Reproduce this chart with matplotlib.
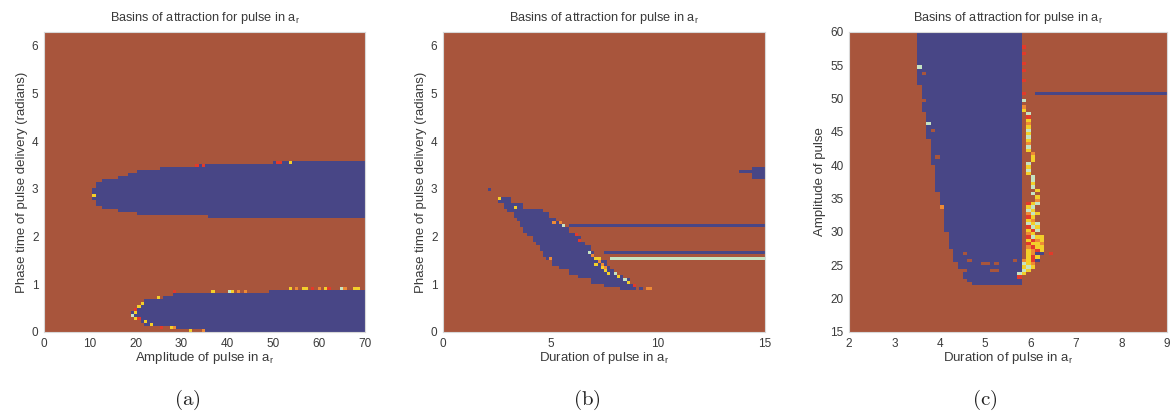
import numpy as np
import matplotlib
matplotlib.use('Agg')
import matplotlib.pyplot as plt
from matplotlib.colors import ListedColormap

plt.rcParams['font.family'] = ['Liberation Sans', 'DejaVu Sans']

# colour code of each grid cell: 0 = brown basin, 1 = blue basin, 2..5 = other attractors
basin_colors = ['#A8553C', '#484686', '#E23A2B', '#F3CF2A', '#C6E3C2', '#EE8A35']
cmap = ListedColormap(basin_colors)

title_txt = 'Basins of attraction for pulse in a$_\\mathregular{r}$'
phase_label = 'Phase time of pulse delivery (radians)'

# ---------------- panel (a): amplitude vs phase ----------------
amp_ticks_a = [0, 10, 20, 30, 40, 50, 60, 70]
phase_ticks = [0, 1, 2, 3, 4, 5, 6]

# upper blue basin, piecewise in amplitude (start of step, bottom, top)
up_amp = [10.5, 11.5, 12.5, 14, 16, 18, 20, 22, 25, 30, 33, 36, 40, 50]
up_bot = [2.75, 2.63, 2.58, 2.55, 2.53, 2.50, 2.48, 2.46, 2.46, 2.46, 2.46, 2.41, 2.41, 2.41]
up_top = [3.02, 3.15, 3.20, 3.22, 3.27, 3.32, 3.38, 3.40, 3.47, 3.48, 3.52, 3.53, 3.54, 3.60]

# lower blue basin
low_amp = [19, 20, 21, 22, 24, 26, 28, 31, 34, 36, 49]
low_bot = [0.30, 0.22, 0.18, 0.15, 0.12, 0.10, 0.08, 0.05, 0.02, 0.0, 0.0]
low_top = [0.45, 0.55, 0.60, 0.66, 0.72, 0.76, 0.80, 0.82, 0.82, 0.82, 0.90]

# scattered cells of other attractors along the borders
spk_a_amp = [11.0, 33.1, 34.4, 50.7, 51.8, 53.3,
             28.2, 25.1, 21.7, 20.9, 20.2, 19.5, 19.8, 20.2, 20.9, 22.4, 23.5, 25.3,
             27.5, 28.6, 31.5, 34.4, 36.9, 40.2, 41.3, 42.4, 43.5,
             53.8, 55.0, 56.2, 57.4, 58.6, 59.8, 61.0, 62.2, 64.5, 65.6, 67.5, 68.6]
spk_a_phase = [2.87, 3.50, 3.50, 3.57, 3.57, 3.57,
               0.85, 0.74, 0.60, 0.53, 0.47, 0.36, 0.42, 0.27, 0.26, 0.20, 0.15, 0.11,
               0.10, 0.10, 0.03, 0.03, 0.86, 0.86, 0.86, 0.86, 0.86,
               0.94, 0.94, 0.94, 0.94, 0.94, 0.94, 0.94, 0.94, 0.94, 0.94, 0.94, 0.94]
spk_a_code = [3, 2, 2, 2, 2, 3,
              2, 3, 3, 3, 2, 4, 3, 3, 2, 3, 3, 2,
              3, 5, 3, 5, 3, 4, 3, 5, 5,
              3, 5, 3, 3, 2, 5, 3, 2, 4, 5, 3, 3]

# ---------------- panel (b): duration vs phase ----------------
dur_ticks_b = [0, 5, 10, 15]

# diagonal blue band, piecewise in phase (start of step, left, right)
band_phase = [0.85, 0.92, 1.0, 1.1, 1.2, 1.3, 1.4, 1.5, 1.6, 1.7, 1.8, 1.9, 2.0,
              2.1, 2.2, 2.3, 2.4, 2.5, 2.6, 2.7, 2.8]
band_left = [8.3, 7.5, 6.9, 6.3, 5.8, 5.4, 5.1, 4.85, 4.65, 4.5, 4.35, 4.15, 3.95,
             3.8, 3.6, 3.4, 3.25, 3.0, 2.8, 2.6, 0]
band_right = [9.0, 9.05, 8.7, 8.4, 8.0, 7.8, 7.6, 7.35, 7.0, 6.85, 6.6, 6.4, 6.15,
              5.9, 5.6, 5.3, 5.0, 4.6, 3.7, 3.1, 0]

# small blue patch at the right edge
patch_phase = [3.19, 3.30, 3.40, 3.47]
patch_left = [14.4, 13.8, 14.4, 0]
patch_right = [15, 15, 15, 0]

# thin horizontal streaks running to the right edge
line_b_phase = [2.24, 1.66, 1.51]
line_b_start = [5.9, 7.45, 7.78]
line_b_code = [1, 1, 4]

spk_b_dur = [2.19, 2.58, 3.35, 5.22, 5.45, 5.68, 6.30, 6.38, 6.77, 7.00, 7.24, 7.16,
             7.40, 7.55, 7.79, 8.10, 8.40, 8.64, 9.00, 9.50, 9.65, 5.00, 9.25,
             7.1, 7.3, 7.45, 7.6, 8.25, 8.5]
spk_b_phase = [3.01, 2.79, 2.59, 2.29, 2.29, 2.22, 2.03, 1.93, 1.66, 1.61, 1.54, 1.44,
               1.44, 1.30, 1.23, 1.24, 1.09, 1.05, 0.95, 0.94, 0.94, 1.51, 0.88,
               1.57, 1.50, 1.38, 1.34, 1.14, 1.10]
spk_b_code = [1, 3, 3, 5, 5, 4, 2, 2, 4, 5, 3, 3,
              5, 3, 3, 4, 4, 3, 2, 5, 5, 5, 1,
              3, 5, 3, 5, 3, 4]

# ---------------- panel (c): duration vs amplitude ----------------
dur_ticks_c = [2, 3, 4, 5, 6, 7, 8, 9]
amp_ticks_c = [15, 20, 25, 30, 35, 40, 45, 50, 55, 60]

# blue basin, piecewise in amplitude (start of step, left, right)
col_amp = [22.0, 22.5, 23.0, 23.5, 24.5, 25.5, 26.5, 27.5, 28.5, 30, 32, 34, 36,
           38, 40, 42, 44, 46, 48, 50, 52, 55]
col_left = [4.75, 4.65, 4.55, 4.5, 4.4, 4.35, 4.3, 4.25, 4.2, 4.15, 4.1, 4.0, 3.95,
            3.9, 3.85, 3.8, 3.75, 3.7, 3.65, 3.6, 3.55, 3.5]
col_right = [5.75, 5.8, 5.8, 5.85, 5.85, 5.85, 5.85, 5.85, 5.85, 5.85, 5.85, 5.85, 5.85,
             5.85, 5.85, 5.85, 5.85, 5.85, 5.85, 5.85, 5.85, 5.85]

line_c_amp = [50.6]
line_c_start = [6.1]
line_c_code = [1]

spk_c_dur = [5.9, 5.9, 5.9, 5.9, 5.9, 5.9, 5.9, 5.9, 5.9, 6.0, 6.0, 6.0,
             6.0, 6.0, 6.0, 6.0, 6.0, 6.0, 6.0, 6.0, 6.0, 6.1, 6.1, 6.1,
             6.0, 6.0, 6.0, 6.0, 6.1, 6.1, 6.1, 6.1, 6.2, 6.1, 6.2, 6.2,
             6.0, 6.1, 6.2, 6.0, 6.1, 6.0, 6.1, 6.0, 6.1, 6.2, 6.0, 6.1,
             6.0, 6.1, 6.0, 6.1, 6.2, 6.0, 6.1, 6.2, 6.0, 6.1, 6.2, 6.0, 6.1,
             6.0, 6.1, 6.2, 6.3, 6.0, 6.1, 6.2, 6.3, 6.0, 6.1, 6.2, 6.3,
             6.0, 6.1, 6.2, 6.3, 6.0, 6.1, 6.2, 6.3, 6.4, 6.0, 6.1, 6.2, 6.3,
             6.0, 6.1, 6.2, 5.9, 6.0, 6.1, 6.2, 5.9, 6.0, 6.1, 5.9, 6.0, 6.1,
             5.9, 6.0, 5.8, 5.9, 5.8,
             3.56, 3.65, 3.65, 3.74, 3.85, 3.92, 4.04,
             4.59, 4.70, 4.96, 5.10, 5.25, 5.18, 5.29, 5.70, 4.59]
spk_c_amp = [57.8, 56.8, 55.5, 54.3, 52.8, 50.8, 50.0, 49.0, 48.5, 48.0, 47.5, 47.0,
             46.5, 46.0, 45.5, 45.0, 44.5, 44.0, 43.5, 43.0, 42.5, 42.0, 41.5, 41.0,
             40.5, 40.0, 39.5, 39.0, 38.5, 38.0, 37.5, 37.0, 36.5, 36.0, 35.5, 35.0,
             34.5, 34.5, 34.5, 34.0, 34.0, 33.5, 33.5, 33.0, 33.0, 33.0, 32.5, 32.5,
             32.0, 32.0, 31.5, 31.5, 31.5, 31.0, 31.0, 31.0, 30.5, 30.5, 30.5, 30.0, 30.0,
             29.5, 29.5, 29.5, 29.5, 29.0, 29.0, 29.0, 29.0, 28.5, 28.5, 28.5, 28.5,
             28.0, 28.0, 28.0, 28.0, 27.5, 27.5, 27.5, 27.5, 27.0, 27.0, 27.0, 27.0, 27.0,
             26.5, 26.5, 26.5, 26.0, 26.0, 26.0, 26.0, 25.5, 25.5, 25.5, 25.0, 25.0, 25.0,
             24.5, 24.5, 24.0, 24.0, 23.5,
             54.9, 53.9, 49.8, 46.3, 45.3, 41.5, 33.6,
             27.0, 25.8, 25.3, 25.5, 25.5, 24.3, 24.3, 26.0, 24.3]
spk_c_code = [2, 2, 2, 2, 2, 2, 4, 5, 3, 4, 2, 3,
              5, 3, 4, 3, 4, 3, 5, 4, 3, 5, 3, 3,
              4, 3, 4, 3, 4, 4, 3, 4, 3, 4, 3, 5,
              2, 3, 4, 3, 4, 4, 3, 5, 4, 3, 2, 3,
              3, 5, 4, 3, 4, 2, 4, 3, 3, 2, 4, 5, 3,
              2, 4, 3, 3, 3, 2, 5, 3, 2, 3, 3, 5,
              5, 2, 3, 3, 3, 5, 2, 3, 2, 3, 5, 1, 1,
              3, 2, 3, 5, 3, 2, 1, 4, 3, 5, 3, 4, 3,
              4, 3, 4, 3, 2,
              4, 0, 0, 4, 0, 0, 5,
              0, 0, 0, 0, 0, 0, 0, 0, 0]


def centers(lo, hi, n):
    e = np.linspace(lo, hi, n + 1)
    return 0.5 * (e[:-1] + e[1:])


def fill_by_columns(grid, xc, yc, starts, lo, hi, code=1):
    for j, x in enumerate(xc):
        k = np.searchsorted(starts, x, side='right') - 1
        if k >= 0:
            grid[(yc >= lo[k]) & (yc <= hi[k]), j] = code


def fill_by_rows(grid, xc, yc, starts, left, right, code=1):
    for i, y in enumerate(yc):
        k = np.searchsorted(starts, y, side='right') - 1
        if k >= 0 and right[k] > left[k]:
            grid[i, (xc >= left[k]) & (xc <= right[k])] = code


def streaks(grid, xc, yc, ys, starts, codes):
    for y, s, c in zip(ys, starts, codes):
        i = np.argmin(np.abs(yc - y))
        grid[i, xc >= s] = c


def speckles(grid, xc, yc, xs, ys, codes):
    for x, y, c in zip(xs, ys, codes):
        grid[np.argmin(np.abs(yc - y)), np.argmin(np.abs(xc - x))] = c


two_pi = 2 * np.pi

# grid (a)
xa = centers(0, 70, 100)
ya = centers(0, two_pi, 100)
grid_a = np.zeros((ya.size, xa.size), dtype=int)
fill_by_columns(grid_a, xa, ya, up_amp, up_bot, up_top)
fill_by_columns(grid_a, xa, ya, low_amp, low_bot, low_top)
speckles(grid_a, xa, ya, spk_a_amp, spk_a_phase, spk_a_code)

# grid (b)
xb = centers(0, 15, 100)
yb = centers(0, two_pi, 100)
grid_b = np.zeros((yb.size, xb.size), dtype=int)
fill_by_rows(grid_b, xb, yb, band_phase, band_left, band_right)
fill_by_rows(grid_b, xb, yb, patch_phase, patch_left, patch_right)
streaks(grid_b, xb, yb, line_b_phase, line_b_start, line_b_code)
speckles(grid_b, xb, yb, spk_b_dur, spk_b_phase, spk_b_code)

# grid (c)
xc_ = centers(2, 9, 70)
yc_ = centers(15, 60, 90)
grid_c = np.zeros((yc_.size, xc_.size), dtype=int)
fill_by_rows(grid_c, xc_, yc_, col_amp, col_left, col_right)
streaks(grid_c, xc_, yc_, line_c_amp, line_c_start, line_c_code)
speckles(grid_c, xc_, yc_, spk_c_dur, spk_c_amp, spk_c_code)

fig = plt.figure(figsize=(11.72, 4.17), dpi=100)
W, H = 1172, 417


def make_axes(x0, x1):
    return fig.add_axes([x0 / W, (H - 332) / H, (x1 - x0) / W, 300 / H])


panels = [
    (make_axes(44, 365), grid_a, [0, 70, 0, two_pi], amp_ticks_a, phase_ticks,
     'Amplitude of pulse in a$_\\mathregular{r}$', phase_label, '(a)', 187),
    (make_axes(443, 765), grid_b, [0, 15, 0, two_pi], dur_ticks_b, phase_ticks,
     'Duration of pulse in a$_\\mathregular{r}$', phase_label, '(b)', 587),
    (make_axes(849, 1167), grid_c, [2, 9, 15, 60], dur_ticks_c, amp_ticks_c,
     'Duration of pulse in a$_\\mathregular{r}$', 'Amplitude of pulse', '(c)', 985),
]

txt = '#3a3a3a'
for ax, grid, ext, xt, yt, xl, yl, tag, tag_x in panels:
    ax.imshow(grid, cmap=cmap, vmin=-0.5, vmax=5.5, origin='lower', extent=ext,
              aspect='auto', interpolation='nearest')
    ax.set_xticks(xt)
    ax.set_yticks(yt)
    ax.tick_params(length=0, labelsize=8.5, labelcolor=txt, pad=4)
    ax.set_xlabel(xl, fontsize=9.5, color=txt, labelpad=0)
    ax.set_ylabel(yl, fontsize=9.5, color=txt, labelpad=3)
    ax.set_title(title_txt, fontsize=9.2, color=txt, pad=8)
    for s in ax.spines.values():
        s.set_color('#d8d8d8')
        s.set_linewidth(0.8)
    fig.text(tag_x / W, (H - 400) / H, r'$\mathrm{(' + tag[1] + r')}$', fontsize=15,
             math_fontfamily='cm', ha='center', va='center', color='#222222')

fig.savefig('out.png', dpi=100)
